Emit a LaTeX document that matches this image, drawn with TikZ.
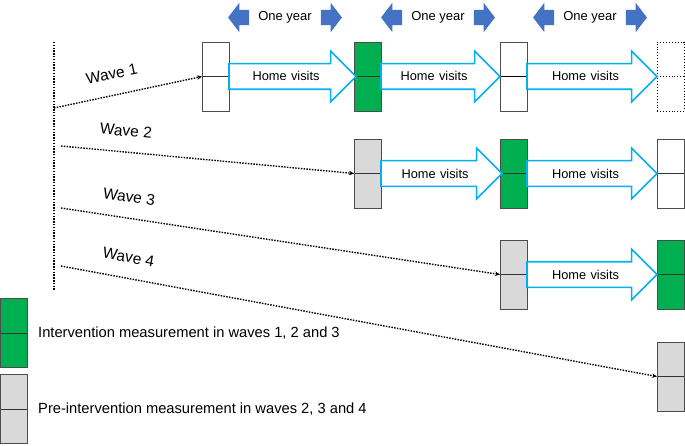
\documentclass[tikz,border=0pt]{standalone}
\usepackage{fontspec}
\setmainfont{Liberation Sans}
\usetikzlibrary{positioning,shapes.arrows,arrows.meta}
\definecolor{intgreen}{RGB}{0,176,80}
\definecolor{pregrey}{RGB}{217,217,217}
\definecolor{visitblue}{RGB}{0,176,240}
\definecolor{yearblue}{RGB}{68,114,196}
\tikzset{
	wavebox/.style={draw=black!70, line width=0.9pt, minimum width=27pt, minimum height=69pt, inner sep=0pt, outer sep=0pt,
		path picture={\draw[black!80, line width=0.9pt] (path picture bounding box.west) -- (path picture bounding box.east);}},
	blank/.style={wavebox, fill=white},
	pre/.style={wavebox, fill=pregrey},
	interv/.style={wavebox, fill=intgreen},
	homevisit/.style={single arrow, draw=visitblue, line width=1.6pt, fill=white, outer sep=0pt,
		inner xsep=0pt, inner ysep=6pt, text height=10.5pt, text depth=1.5pt, align=center,
		single arrow head extend=12.5pt, single arrow tip angle=90,
		font=\fontsize{12.8}{15}\selectfont},
	yeararrow/.style={single arrow, fill=yearblue, outer sep=0pt, inner xsep=0pt, inner ysep=7.5pt,
		minimum height=21pt, single arrow head extend=7pt, single arrow tip angle=105},
	yeartext/.style={inner sep=0pt, font=\fontsize{13}{15}\selectfont},
	dots/.style={line width=1.4pt, dash pattern=on 1.5pt off 1.3pt},
	waveline/.style={dots, -{Stealth[length=5pt,width=4.5pt]}},
	wavelabel/.style={inner sep=0pt, sloped, above=15pt, font=\fontsize{15.5}{18}\selectfont},
	legendtext/.style={inner sep=0pt, font=\fontsize{14.7}{17}\selectfont}
}
\begin{document}
\begin{tikzpicture}[x=1pt, y=1pt]
	\useasboundingbox (0,0) rectangle (685,445);
	
	\node[blank] (w1a) at (215.5,368.5) {};
	\node[interv, right=125pt of w1a] (w1b) {};
	\node[blank, right=119pt of w1b, path picture={\draw[black, line width=1.6pt] (path picture bounding box.west) -- (path picture bounding box.east);}] (w1c) {};
	\node[blank, draw=black, dotted, right=130pt of w1c, path picture={\draw[dotted, line width=0.9pt] (path picture bounding box.west) -- (path picture bounding box.east);}] (w1d) {};
	\node[pre, below=28pt of w1b] (w2a) {};
	\node[interv, below=28pt of w1c] (w2b) {};
	\node[blank, below=28pt of w1d] (w2c) {};
	\node[pre, below=32pt of w2b] (w3a) {};
	\node[interv, below=32pt of w2c] (w3b) {};
	\node[pre, below=33pt of w3b] (w4a) {};
	
	\node[homevisit, text width=112.5pt, right=0pt of w1a] (hv1) {Home visits\hspace*{10pt}};
	\node[homevisit, text width=104.5pt, right=0pt of w1b] (hv2) {Home visits\hspace*{10pt}};
	\node[homevisit, text width=115.5pt, right=0pt of w1c] (hv3) {Home visits\hspace*{10pt}};
	\node[homevisit, text width=106.5pt, right=0pt of w2a] (hv4) {Home visits\hspace*{10pt}};
	\node[homevisit, text width=115.5pt, right=0pt of w2b] (hv5) {Home visits\hspace*{10pt}};
	\node[homevisit, text width=115.5pt, right=0pt of w3a] (hv6) {Home visits\hspace*{10pt}};
	
	\node[yeartext] (yr1) at (285,427.5) {One year};
	\node[yeararrow, shape border rotate=180, left=9pt of yr1] (yr1l) {};
	\node[yeararrow, right=9pt of yr1] (yr1r) {};
	\node[yeartext] (yr2) at (438,427.5) {One year};
	\node[yeararrow, shape border rotate=180, left=9pt of yr2] (yr2l) {};
	\node[yeararrow, right=9pt of yr2] (yr2r) {};
	\node[yeartext] (yr3) at (590,427.5) {One year};
	\node[yeararrow, shape border rotate=180, left=9pt of yr3] (yr3l) {};
	\node[yeararrow, right=9pt of yr3] (yr3r) {};
	
	\coordinate (tltop) at (54,403);
	\coordinate (tlbot) at (54,155);
	\coordinate (s1) at (54,337);
	\coordinate (s2) at (61,299);
	\coordinate (s3) at (61,237);
	\coordinate (s4) at (61,179);
	\draw[dots] (tltop) -- (tlbot);
	\draw[waveline] (s1) -- node[wavelabel, pos=.42] (lw1) {Wave 1} (w1a.west);
	\draw[waveline] (s2) -- node[wavelabel, pos=.215] (lw2) {Wave 2} (w2a.west);
	\draw[waveline] (s3) -- node[wavelabel, pos=.148] (lw3) {Wave 3} (w3a.west);
	\draw[waveline] (s4) -- node[wavelabel, pos=.107] (lw4) {Wave 4} (w4a.west);
	
	\node[interv] (k1) at (13.5,112) {};
	\node[pre, below=7pt of k1] (k2) {};
	\node[legendtext, right=11pt of k1] (t1) {Intervention measurement in waves 1, 2 and 3};
	\node[legendtext, right=11pt of k2] (t2) {Pre-intervention measurement in waves 2, 3 and 4};
\end{tikzpicture}
\end{document}
